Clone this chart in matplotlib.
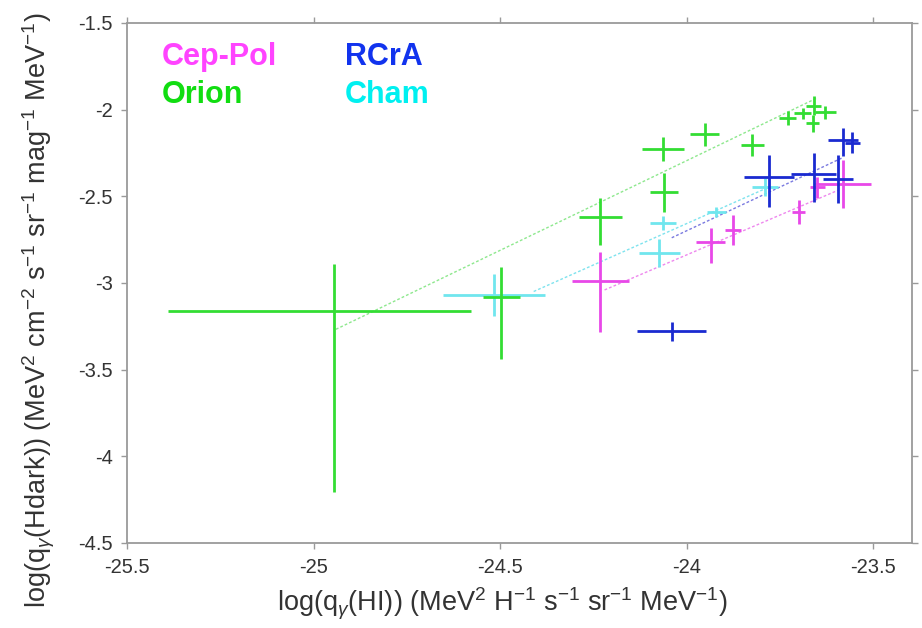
import matplotlib
matplotlib.use("Agg")
import matplotlib.pyplot as plt
import numpy as np

plt.rcParams['font.family'] = ['Liberation Sans', 'DejaVu Sans']
plt.rcParams['mathtext.fontset'] = 'custom'
plt.rcParams['mathtext.rm'] = 'Liberation Sans'
plt.rcParams['mathtext.it'] = 'Liberation Sans:italic'
plt.rcParams['mathtext.sf'] = 'Liberation Sans'

# ---------------- data ----------------
# Orion
orion_x = [-24.944, -24.497, -24.231, -24.064, -24.061, -23.952, -23.824,
           -23.729, -23.689, -23.660, -23.628, -23.662]
orion_y = [-3.164, -3.078, -2.619, -2.229, -2.475, -2.143, -2.206,
           -2.050, -2.022, -1.976, -2.016, -2.079]
orion_xlo = [0.447, 0.05, 0.057, 0.056, 0.038, 0.04, 0.03, 0.023, 0.022, 0.02, 0.029, 0.018]
orion_xhi = [0.367, 0.05, 0.057, 0.056, 0.038, 0.04, 0.03, 0.023, 0.022, 0.02, 0.029, 0.018]
orion_ylo = [1.04, 0.36, 0.16, 0.07, 0.115, 0.065, 0.063, 0.04, 0.03, 0.057, 0.04, 0.048]
orion_yhi = [0.275, 0.17, 0.11, 0.07, 0.11, 0.065, 0.063, 0.04, 0.03, 0.057, 0.04, 0.048]

# Chamaeleon
cham_x = [-24.516, -24.064, -24.074, -23.920, -23.790]
cham_y = [-3.070, -2.653, -2.825, -2.590, -2.447]
cham_xerr = [0.137, 0.035, 0.055, 0.025, 0.035]
cham_yerr = [0.12, 0.04, 0.08, 0.03, 0.05]

# Cepheus-Polaris
ceppol_x = [-24.231, -23.936, -23.875, -23.700, -23.650, -23.580]
ceppol_y = [-2.990, -2.762, -2.693, -2.590, -2.447, -2.430]
ceppol_xerr = [0.076, 0.038, 0.022, 0.018, 0.02, 0.075]
ceppol_ylo = [0.29, 0.12, 0.085, 0.07, 0.06, 0.14]
ceppol_yhi = [0.17, 0.08, 0.085, 0.07, 0.06, 0.14]

# R CrA
rcra_x = [-24.040, -23.779, -23.660, -23.595, -23.580, -23.556]
rcra_y = [-3.279, -2.389, -2.370, -2.400, -2.177, -2.190]
rcra_xerr = [0.092, 0.066, 0.06, 0.04, 0.04, 0.02]
rcra_ylo = [0.055, 0.17, 0.16, 0.14, 0.09, 0.06]
rcra_yhi = [0.055, 0.126, 0.12, 0.14, 0.07, 0.06]

# linear fits: (x start, x end), (y start, y end)
orion_fit_x = [-24.94, -23.65]
orion_fit_y = [-3.267, -1.932]
cham_fit_x = [-24.41, -23.78]
cham_fit_y = [-3.049, -2.447]
ceppol_fit_x = [-24.22, -23.593]
ceppol_fit_y = [-3.040, -2.464]
rcra_fit_x = [-24.04, -23.58]
rcra_fit_y = [-2.739, -2.275]

xticks = [-25.5, -25, -24.5, -24, -23.5]
yticks = [-4.5, -4, -3.5, -3, -2.5, -2, -1.5]
xtick_labels = ['-25.5', '-25', '-24.5', '-24', '-23.5']
ytick_labels = ['-4.5', '-4', '-3.5', '-3', '-2.5', '-2', '-1.5']

c_orion = '#33dd33'
c_cham = '#70e6ee'
c_ceppol = '#e848e8'
c_rcra = '#1a2ad0'

# ---------------- figure ----------------
W, H = 922, 628
fig = plt.figure(figsize=(W / 100, H / 100), dpi=100)
ax = fig.add_axes([127 / W, 1 - 543 / H, (912 - 127) / W, (543 - 23) / H])

dots = (0, (2.0, 1.5))
ax.plot(orion_fit_x, orion_fit_y, color='#8ee88e', lw=1.0, ls=dots, zorder=1)
ax.plot(cham_fit_x, cham_fit_y, color='#7fe3ee', lw=1.0, ls=dots, zorder=1)
ax.plot(ceppol_fit_x, ceppol_fit_y, color='#ee88ee', lw=1.0, ls=dots, zorder=1)
ax.plot(rcra_fit_x, rcra_fit_y, color='#7a7ae0', lw=1.0, ls=dots, zorder=1)

kw = dict(fmt='none', elinewidth=2.0, capsize=0)
ax.errorbar(cham_x, cham_y, xerr=cham_xerr, yerr=cham_yerr, ecolor=c_cham, zorder=2, **kw)
ax.errorbar(ceppol_x, ceppol_y, xerr=ceppol_xerr, yerr=[ceppol_ylo, ceppol_yhi],
            ecolor=c_ceppol, zorder=3, **kw)
ax.errorbar(rcra_x, rcra_y, xerr=rcra_xerr, yerr=[rcra_ylo, rcra_yhi],
            ecolor=c_rcra, zorder=4, **kw)
ax.errorbar(orion_x, orion_y, xerr=[orion_xlo, orion_xhi], yerr=[orion_ylo, orion_yhi],
            ecolor=c_orion, zorder=5, **kw)

ax.set_xlim(-25.5, -23.396)
ax.set_ylim(-4.5, -1.5)
ax.set_xticks(xticks)
ax.set_xticklabels(xtick_labels)
ax.set_yticks(yticks)
ax.set_yticklabels(ytick_labels)

for s in ax.spines.values():
    s.set_color('#9a9a9a')
    s.set_linewidth(1.3)
ax.tick_params(direction='out', length=4, width=1.0, color='#9a9a9a',
               labelsize=14.5, labelcolor='#333333',
               top=True, right=True, labeltop=False, labelright=False)
ax.tick_params(axis='x', pad=7)
ax.tick_params(axis='y', pad=6)

ax.set_xlabel(r'log(q$_\gamma$(HI)) (MeV$^2$ H$^{-1}$ s$^{-1}$ sr$^{-1}$ MeV$^{-1}$)',
              fontsize=19.5, color='#333333')
ax.set_ylabel(r'log(q$_\gamma$(Hdark)) (MeV$^2$ cm$^{-2}$ s$^{-1}$ sr$^{-1}$ mag$^{-1}$ MeV$^{-1}$)',
              fontsize=19.5, color='#333333')
ax.xaxis.set_label_coords(0.478, -0.083)
ax.yaxis.set_label_coords(-0.089, 0.448)

fig.text(162 / W, 1 - 57 / H, 'Cep-Pol', fontsize=22, fontweight='bold',
         color='#ff44ff', va='center', ha='left')
fig.text(162 / W, 1 - 95 / H, 'Orion', fontsize=22, fontweight='bold',
         color='#11dd11', va='center', ha='left')
fig.text(345 / W, 1 - 57 / H, 'RCrA', fontsize=22, fontweight='bold',
         color='#1133ee', va='center', ha='left')
fig.text(345 / W, 1 - 95 / H, 'Cham', fontsize=22, fontweight='bold',
         color='#00f0f0', va='center', ha='left')

fig.savefig('out.png', dpi=100)
